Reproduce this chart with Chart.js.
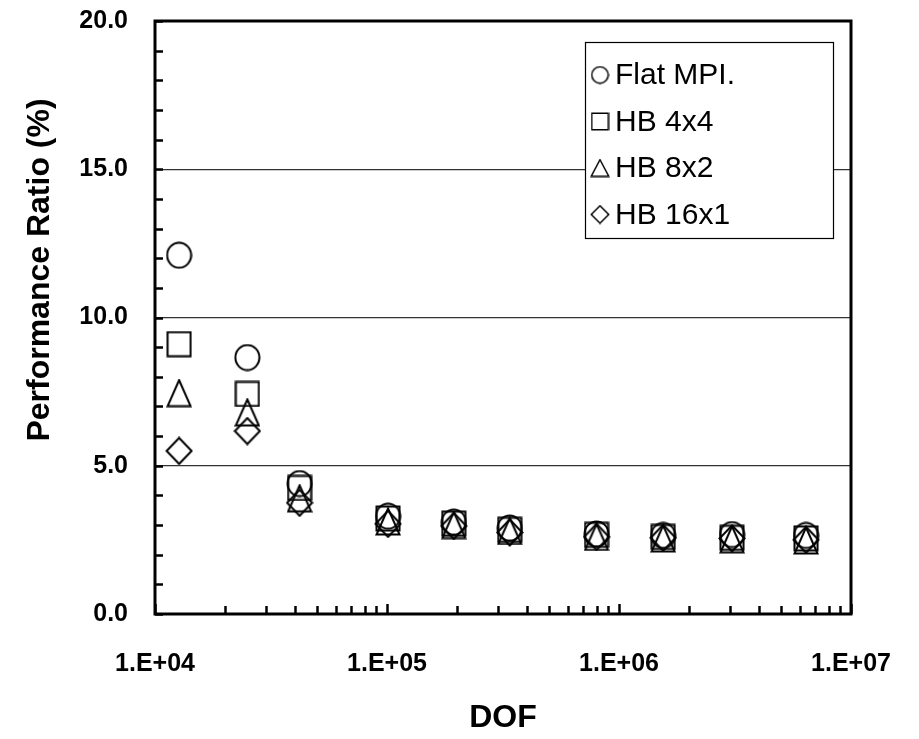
<!DOCTYPE html>
<html>
<head>
<meta charset="utf-8">
<script src="https://cdn.jsdelivr.net/npm/chart.js@4.4.1/dist/chart.umd.min.js"></script>
<style>
  html, body { margin: 0; padding: 0; background: #fff; }
  #wrap { width: 919px; height: 739px; }
</style>
</head>
<body>
<div id="wrap"><canvas id="chart-dof"></canvas></div>
<script>
// datos
const dof = [12700, 25000, 42000, 101000, 194000, 338000, 800000, 1550000, 3070000, 6400000];
const flatMpi = [12.1, 8.65, 4.4, 3.3, 3.1, 2.9, 2.7, 2.65, 2.68, 2.65];
const hb4x4 = [9.1, 7.42, 4.25, 3.22, 3.05, 2.84, 2.67, 2.6, 2.57, 2.55];
const hb8x2 = [7.45, 6.8, 3.9, 3.12, 3.0, 2.8, 2.6, 2.55, 2.52, 2.48];
const hb16x1 = [5.5, 6.17, 3.75, 3.04, 2.97, 2.75, 2.6, 2.57, 2.55, 2.5];
const seriesNames = ['Flat MPI.', 'HB 4x4', 'HB 8x2', 'HB 16x1'];
const xDecades = [1e4, 1e5, 1e6, 1e7];
const xDecadeLabels = ['1.E+04', '1.E+05', '1.E+06', '1.E+07'];
const yTickLabels = ['0.0', '5.0', '10.0', '15.0', '20.0'];

const FONT = "'Liberation Sans', Arial, sans-serif";

// marcadores huecos dibujados en un canvas pequeno
function makeMarker(kind, w, h, lw) {
    const c = document.createElement('canvas');
    c.width = w; c.height = h;
    const g = c.getContext('2d');
    g.strokeStyle = '#000';
    g.lineWidth = lw;
    const m = lw / 2 + 0.5;
    g.beginPath();
    if (kind === 'circle') {
        g.ellipse(w / 2, h / 2, w / 2 - m, h / 2 - m, 0, 0, Math.PI * 2);
    } else if (kind === 'square') {
        g.rect(m, m, w - 2 * m, h - 2 * m);
    } else if (kind === 'triangle') {
        g.moveTo(w / 2, m);
        g.lineTo(w - m, h - m);
        g.lineTo(m, h - m);
        g.closePath();
    } else {
        g.moveTo(w / 2, m);
        g.lineTo(w - m, h / 2);
        g.lineTo(w / 2, h - m);
        g.lineTo(m, h / 2);
        g.closePath();
    }
    g.stroke();
    return c;
}

const markers = [
    makeMarker('circle', 27, 28, 2),
    makeMarker('square', 26, 27, 2),
    makeMarker('triangle', 26, 29, 2),
    makeMarker('diamond', 28, 29, 2)
];
const legendMarkers = [
    makeMarker('circle', 19, 19, 1.5),
    makeMarker('square', 19, 19, 1.5),
    makeMarker('triangle', 20, 19, 1.5),
    makeMarker('diamond', 20, 20, 1.5)
];

const seriesValues = [flatMpi, hb4x4, hb8x2, hb16x1];

// marco, ticks interiores, titulo Y y leyenda
const framePlugin = {
    id: 'frame',
    afterDraw(chart) {
        const { ctx, chartArea: a, scales } = chart;
        ctx.save();
        ctx.strokeStyle = '#000';
        ctx.lineWidth = 2.5;
        ctx.beginPath();
        scales.x.ticks.forEach(t => {
            const px = Math.round(scales.x.getPixelForValue(t.value)) + 0.5;
            const len = xDecades.includes(t.value) ? 10 : 8;
            ctx.moveTo(px, a.bottom);
            ctx.lineTo(px, a.bottom - len);
        });
        scales.y.ticks.forEach(t => {
            const py = Math.round(scales.y.getPixelForValue(t.value)) + 0.5;
            ctx.moveTo(a.left, py);
            ctx.lineTo(a.left + 8, py);
        });
        ctx.stroke();

        ctx.lineWidth = 3;
        ctx.strokeRect(a.left, a.top, a.right - a.left, a.bottom - a.top);

        // titulo eje Y
        ctx.save();
        ctx.translate(40, 270);
        ctx.rotate(-Math.PI / 2);
        ctx.fillStyle = '#000';
        ctx.font = 'bold 32px ' + FONT;
        ctx.textAlign = 'center';
        ctx.textBaseline = 'middle';
        ctx.fillText('Performance Ratio (%)', 0, 0);
        ctx.restore();

        // leyenda
        const bx = 585, by = 42, bw = 248, bh = 196;
        ctx.fillStyle = '#fff';
        ctx.fillRect(bx, by, bw, bh);
        ctx.lineWidth = 1.2;
        ctx.strokeStyle = '#000';
        ctx.strokeRect(bx + 0.5, by + 0.5, bw, bh);
        ctx.fillStyle = '#000';
        ctx.font = '30px ' + FONT;
        ctx.textAlign = 'left';
        ctx.textBaseline = 'middle';
        chart.data.datasets.forEach((ds, i) => {
            const cy = by + 33 + i * 46.5;
            const mk = legendMarkers[i];
            ctx.drawImage(mk, 600 - mk.width / 2, cy - mk.height / 2);
            ctx.fillText(ds.label, 615, cy + 1);
        });
        ctx.restore();
    }
};

const ctx = document.getElementById('chart-dof').getContext('2d');
new Chart(ctx, {
    type: 'scatter',
    data: {
        datasets: seriesNames.map((name, i) => ({
            label: name,
            data: dof.map((d, j) => ({ x: d, y: seriesValues[i][j] })),
            pointStyle: markers[i],
            borderColor: '#000',
            backgroundColor: 'transparent'
        }))
    },
    options: {
        responsive: true,
        maintainAspectRatio: false,
        animation: false,
        layout: { padding: { top: 21, right: 68, left: 0, bottom: 0 } },
        plugins: { legend: { display: false }, tooltip: { enabled: false } },
        scales: {
            x: {
                type: 'logarithmic',
                min: 1e4,
                max: 1e7,
                afterBuildTicks(scale) {
                    const ticks = [];
                    xDecades.forEach((d, k) => {
                        const top = k < xDecades.length - 1 ? 9 : 1;
                        for (let m = 1; m <= top; m++) ticks.push({ value: d * m });
                    });
                    scale.ticks = ticks;
                },
                afterFit(scale) {
                    scale.height = 125;
                    scale.paddingLeft = 0;
                    scale.paddingRight = 0;
                },
                grid: { display: false },
                border: { display: false },
                ticks: {
                    autoSkip: false,
                    maxRotation: 0,
                    padding: 27,
                    color: '#000',
                    font: { family: FONT, size: 25, weight: 'bold' },
                    callback: v => {
                        const k = xDecades.indexOf(v);
                        return k >= 0 ? xDecadeLabels[k] : '';
                    }
                },
                title: {
                    display: true,
                    text: 'DOF',
                    color: '#000',
                    font: { family: FONT, size: 32, weight: 'bold' },
                    padding: { top: 0, bottom: 2 }
                }
            },
            y: {
                min: 0,
                max: 20,
                afterFit(scale) {
                    scale.width = 155;
                    scale.paddingTop = 0;
                    scale.paddingBottom = 0;
                },
                border: { display: false },
                grid: {
                    drawTicks: false,
                    lineWidth: 1.2,
                    color: c => {
                        const v = c.tick ? c.tick.value : 0;
                        return (v % 5 === 0 && v > 0 && v < 20) ? '#333' : 'rgba(0,0,0,0)';
                    }
                },
                ticks: {
                    stepSize: 1,
                    autoSkip: false,
                    maxTicksLimit: 30,
                    padding: 27,
                    color: '#000',
                    font: { family: FONT, size: 25, weight: 'bold' },
                    callback: v => (v % 5 === 0 ? yTickLabels[v / 5] : '')
                }
            }
        }
    },
    plugins: [framePlugin]
});
</script>
</body>
</html>
